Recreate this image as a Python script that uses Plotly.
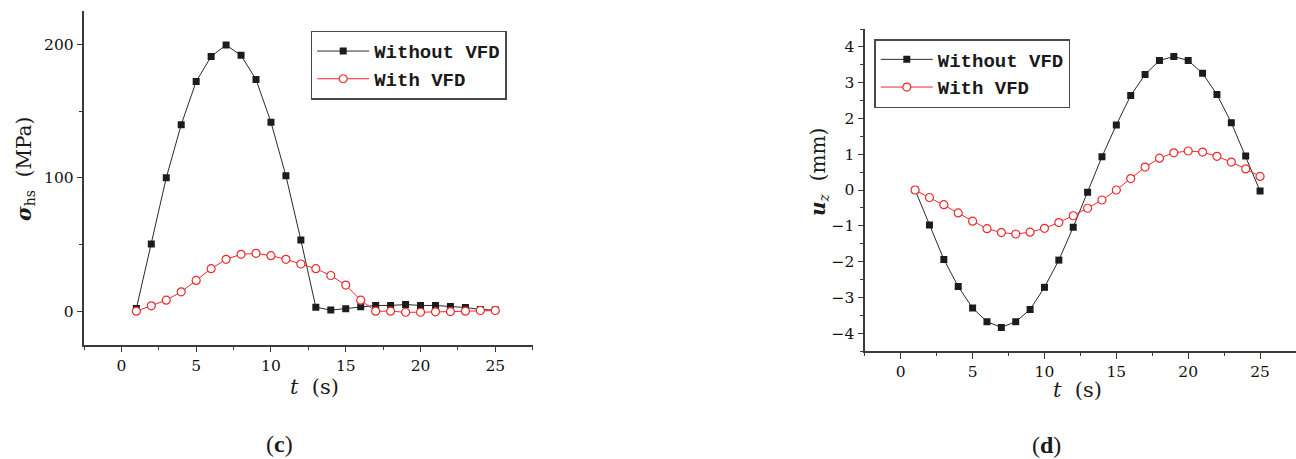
import plotly.graph_objects as go

W, H = 1296, 459

# Time axis (s)
t = list(range(1, 26))

# Hot-spot stress (MPa)
stress_without_vfd = [2.0, 50.4, 100.1, 140.0, 172.4, 191.2, 199.7, 192.0, 173.9, 141.8,
                      101.6, 53.4, 3.0, 0.8, 1.8, 3.3, 4.3, 4.3, 5.0, 4.3,
                      4.3, 3.5, 2.8, 1.3, 0.8]
stress_with_vfd = [0.0, 4.0, 8.3, 14.5, 23.1, 31.9, 38.9, 42.7, 43.4, 41.7,
                   38.9, 35.4, 31.9, 26.8, 19.6, 8.3, 0.0, 0.0, -0.8, -0.8,
                   -0.5, -0.3, 0.0, 0.5, 0.5]

# Vertical displacement (mm)
disp_without_vfd = [0.0, -0.98, -1.94, -2.70, -3.30, -3.68, -3.84, -3.68, -3.34, -2.72,
                    -1.96, -1.04, -0.06, 0.93, 1.82, 2.64, 3.23, 3.62, 3.73, 3.62,
                    3.26, 2.67, 1.88, 0.95, -0.03]
disp_with_vfd = [0.0, -0.21, -0.41, -0.64, -0.87, -1.08, -1.19, -1.23, -1.18, -1.07,
                 -0.91, -0.72, -0.51, -0.28, 0.0, 0.32, 0.64, 0.89, 1.04, 1.09,
                 1.06, 0.94, 0.78, 0.59, 0.38]

series_names = ["Without VFD", "With VFD"]
panel_labels = ["(<b>c</b>)", "(<b>d</b>)"]

BLACK = "#1c1c1c"
RED = "#ec2a2e"
AXIS = "#3a3a3a"
TICK_FONT = dict(family="DejaVu Serif", size=15.5, color="#111111")
LEG_FONT = dict(family="Liberation Mono", size=19, color="#1a1a1a", weight="bold")


def px_x(p):
    return p / W


def px_y(p):
    return 1 - p / H


fig = go.Figure()


def add_pair(y_without, y_with, xa, ya, legend):
    fig.add_trace(go.Scatter(
        x=t, y=y_without, name=series_names[0], mode="lines+markers",
        xaxis=xa, yaxis=ya, legend=legend,
        line=dict(color="#2a2a2a", width=1),
        marker=dict(symbol="square", size=7, color=BLACK, line=dict(width=0)),
    ))
    fig.add_trace(go.Scatter(
        x=t, y=y_with, name=series_names[1], mode="lines+markers",
        xaxis=xa, yaxis=ya, legend=legend,
        line=dict(color=RED, width=1),
        marker=dict(symbol="circle", size=8, color="white", line=dict(color=RED, width=1.2)),
    ))


add_pair(stress_without_vfd, stress_with_vfd, "x", "y", "legend")
add_pair(disp_without_vfd, disp_with_vfd, "x2", "y2", "legend2")


def xaxis_style(domain, anchor):
    return dict(
        domain=domain, anchor=anchor, range=[-2.5, 27.5],
        tick0=0, dtick=5, ticks="outside", ticklen=6, tickwidth=1.2, tickcolor=AXIS,
        minor=dict(tick0=0, dtick=2.5, ticks="outside", ticklen=3.5, tickwidth=1.2, tickcolor=AXIS),
        showline=True, linecolor=AXIS, linewidth=1.5,
        showgrid=False, zeroline=False, tickfont=TICK_FONT,
    )


def yaxis_style(domain, anchor, rng, dtick, minor_dtick):
    return dict(
        domain=domain, anchor=anchor, range=rng,
        tick0=0, dtick=dtick, ticks="outside", ticklen=5.5, tickwidth=1.2, tickcolor=AXIS,
        minor=dict(tick0=0, dtick=minor_dtick, ticks="outside", ticklen=3.5, tickwidth=1.2, tickcolor=AXIS),
        showline=True, linecolor=AXIS, linewidth=1.5,
        showgrid=False, zeroline=False, tickfont=TICK_FONT,
    )


left_x = [px_x(84), px_x(532.7)]
right_x = [px_x(864.8), 1.0]
left_y = [px_y(344.5), px_y(11.4)]
right_y = [px_y(351), px_y(29)]

legend_style = dict(
    xanchor="left", yanchor="top",
    bgcolor="white", bordercolor="#4a4a4a", borderwidth=1.5,
    font=LEG_FONT, itemwidth=52, tracegroupgap=0,
)

fig.update_layout(
    width=W, height=H,
    margin=dict(l=0, r=0, t=0, b=0),
    paper_bgcolor="white", plot_bgcolor="white",
    xaxis=xaxis_style(left_x, "y"),
    yaxis=yaxis_style(left_y, "x", [-25, 225], 100, 50),
    xaxis2=xaxis_style(right_x, "y2"),
    yaxis2=yaxis_style(right_y, "x2", [-4.5, 4.5], 1, 0.5),
    legend=dict(legend_style, x=px_x(310.7), y=px_y(30.7)),
    legend2=dict(legend_style, x=px_x(874.3), y=px_y(39)),
)

title_font = dict(family="DejaVu Serif", size=20, color="#1a1a1a")
annotations = [
    # y-axis titles
    dict(x=px_x(25), y=px_y(169), text="<b><i>σ</i></b><sub>hs</sub>  (MPa)",
         textangle=-90, font=title_font),
    dict(x=px_x(819), y=px_y(172), text="<b><i>u</i></b><sub><i>z</i></sub>  (mm)",
         textangle=-90, font=title_font),
    # x-axis titles
    dict(x=px_x(314), y=px_y(387), text="<i>t</i>  (s)", font=dict(title_font, size=21)),
    dict(x=px_x(1077), y=px_y(390), text="<i>t</i>  (s)", font=dict(title_font, size=21)),
    # panel labels
    dict(x=px_x(279), y=px_y(444), text=panel_labels[0],
         font=dict(family="Liberation Serif", size=24, color="#1a1a1a")),
    dict(x=px_x(1046), y=px_y(445), text=panel_labels[1],
         font=dict(family="Liberation Serif", size=24, color="#1a1a1a")),
]
for a in annotations:
    a.update(xref="paper", yref="paper", xanchor="center", yanchor="middle", showarrow=False)
fig.update_layout(annotations=annotations)

fig.write_html("out.html")
